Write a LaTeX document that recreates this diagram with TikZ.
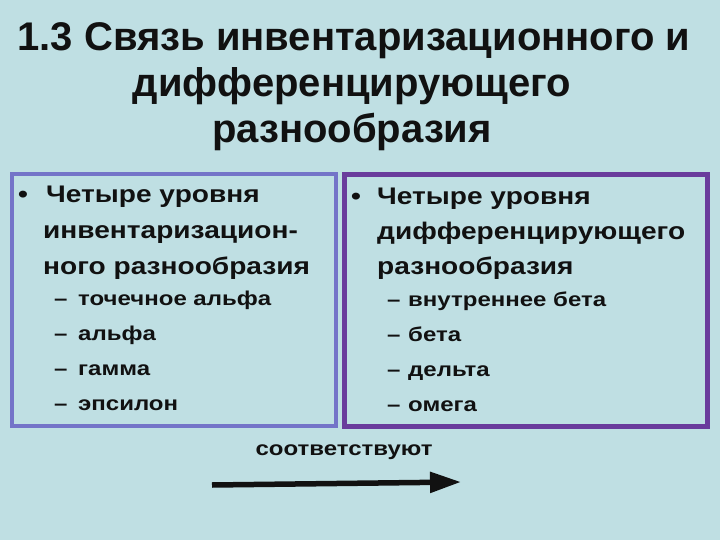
\documentclass[tikz,border=0pt]{standalone}
\usepackage{fontspec}
\setmainfont{Liberation Sans}
\newfontfamily\titlefont{Liberation Sans}
\newfontfamily\lvlfont[FakeStretch=1.17]{Liberation Sans}
\newfontfamily\subfont[FakeStretch=1.2]{Liberation Sans}
\usetikzlibrary{arrows.meta}
\definecolor{bgc}{HTML}{BFDFE3}
\definecolor{leftc}{HTML}{7474C8}
\definecolor{rightc}{HTML}{6A3C9C}
\definecolor{ink}{HTML}{111111}
\tikzset{
  ttl/.style={anchor=base, inner sep=0pt, text=ink, font=\titlefont\fontsize{40}{40}\selectfont\bfseries},
  lvl/.style={anchor=base west, inner sep=0pt, text=ink, font=\lvlfont\fontsize{24}{24}\selectfont\bfseries},
  sub/.style={anchor=base west, inner sep=0pt, text=ink, font=\subfont\fontsize{20}{20}\selectfont\bfseries},
  boxl/.style={draw=leftc, line width=4pt},
  boxr/.style={draw=rightc, line width=5pt},
}
\begin{document}
\begin{tikzpicture}[x=1pt,y=-1pt]
\fill[bgc] (0,0) rectangle (720,540);
\useasboundingbox (0,0) rectangle (720,540);
\node[ttl] (t1) at (354,51) {1.3 Связь инвентаризационного и};
\node[ttl] (t2) at (352,97) {дифференцирующего};
\node[ttl] (t3) at (352,143) {разнообразия};
\draw[boxl] (12,174) rectangle (336,426);
\draw[boxr] (344,175) rectangle (707,426);
% left
\node[lvl] (lb) at (18,203) {•};
\node[lvl] (l1) at (46,203) {Четыре уровня};
\node[lvl] (l2) at (43,239) {инвентаризацион-};
\node[lvl] (l3) at (43,274) {ного разнообразия};
\node[sub] (ld1) at (54,305) {–};
\node[sub] (la1) at (78,305) {точечное альфа};
\node[sub] (ld2) at (54,340) {–};
\node[sub] (la2) at (78,340) {альфа};
\node[sub] (ld3) at (54,375) {–};
\node[sub] (la3) at (78,375) {гамма};
\node[sub] (ld4) at (54,410) {–};
\node[sub] (la4) at (78,410) {эпсилон};
% right
\node[lvl] (rb) at (351,205) {•};
\node[lvl] (r1) at (377,205) {Четыре уровня};
\node[lvl] (r2) at (377,240) {дифференцирующего};
\node[lvl] (r3) at (377,274) {разнообразия};
\node[sub] (rd1) at (387,306) {–};
\node[sub] (ra1) at (408,306) {внутреннее бета};
\node[sub] (rd2) at (387,341) {–};
\node[sub] (ra2) at (408,341) {бета};
\node[sub] (rd3) at (387,376) {–};
\node[sub] (ra3) at (408,376) {дельта};
\node[sub] (rd4) at (387,411) {–};
\node[sub] (ra4) at (408,411) {омега};
\node[sub, anchor=base] (corr) at (344,455) {соответствуют};
\coordinate (as) at (212,485);
\coordinate (ae) at (461,482);
\draw[ink, line width=5.5pt, -{Triangle[length=31pt,width=20pt]}] (as) -- (ae);
\end{tikzpicture}
\end{document}
